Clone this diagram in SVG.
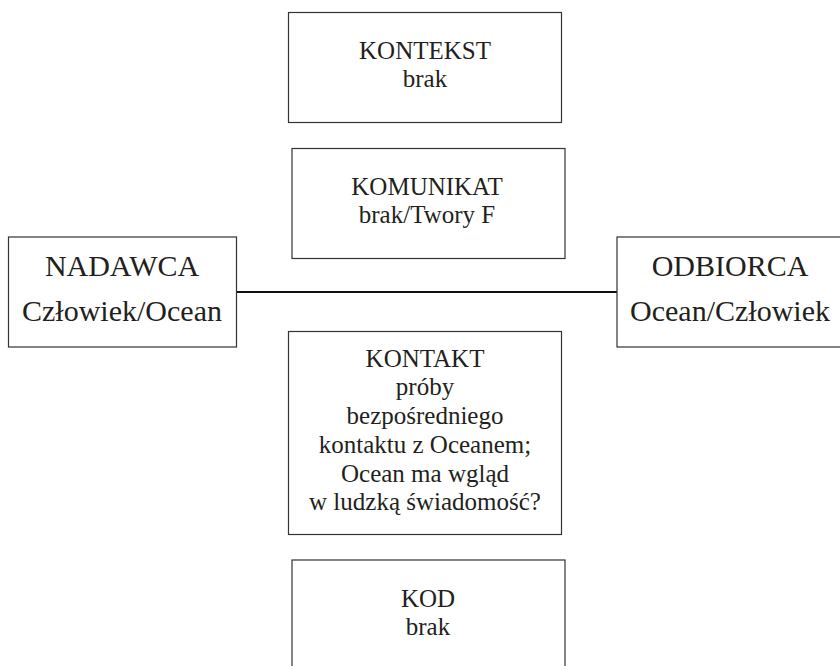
<svg xmlns="http://www.w3.org/2000/svg" width="840" height="666" viewBox="0 0 840 666">
<style>
.box{fill:#fff;stroke:#333;stroke-width:1.2}
.t{font-family:"Liberation Serif","Times New Roman",serif;fill:#231f20;text-anchor:middle}
.s{font-size:25px}
.l{font-size:30px}
.conn{stroke:#111;stroke-width:2;fill:none}
</style>
<rect width="840" height="666" fill="#fff"/>
<g id="connectors">
<line class="conn" x1="236.5" y1="292" x2="617" y2="292"/>
</g>
<g id="kontekst">
<rect class="box" x="288.5" y="12.5" width="273" height="110"/>
<text class="t s" x="425" y="59">KONTEKST</text>
<text class="t s" x="425" y="87">brak</text>
</g>
<g id="komunikat">
<rect class="box" x="292" y="148.5" width="273" height="110"/>
<text class="t s" x="427" y="195">KOMUNIKAT</text>
<text class="t s" x="427" y="223">brak/Twory F</text>
</g>
<g id="nadawca">
<rect class="box" x="8.5" y="237" width="228" height="110"/>
<text class="t l" x="122" y="276">NADAWCA</text>
<text class="t l" x="122" y="321">Człowiek/Ocean</text>
</g>
<g id="odbiorca">
<rect class="box" x="617" y="237" width="228" height="110"/>
<text class="t l" x="730" y="276">ODBIORCA</text>
<text class="t l" x="730" y="321">Ocean/Człowiek</text>
</g>
<g id="kontakt">
<rect class="box" x="288.5" y="331.5" width="273" height="203"/>
<text class="t s" x="425" y="367">KONTAKT</text>
<text class="t s" x="425" y="395">próby</text>
<text class="t s" x="425" y="424">bezpośredniego</text>
<text class="t s" x="425" y="453">kontaktu z Oceanem;</text>
<text class="t s" x="425" y="481.5">Ocean ma wgląd</text>
<text class="t s" x="425" y="510">w ludzką świadomość?</text>
</g>
<g id="kod">
<rect class="box" x="292" y="560" width="273" height="120"/>
<text class="t s" x="428" y="607">KOD</text>
<text class="t s" x="428" y="635">brak</text>
</g>
</svg>
